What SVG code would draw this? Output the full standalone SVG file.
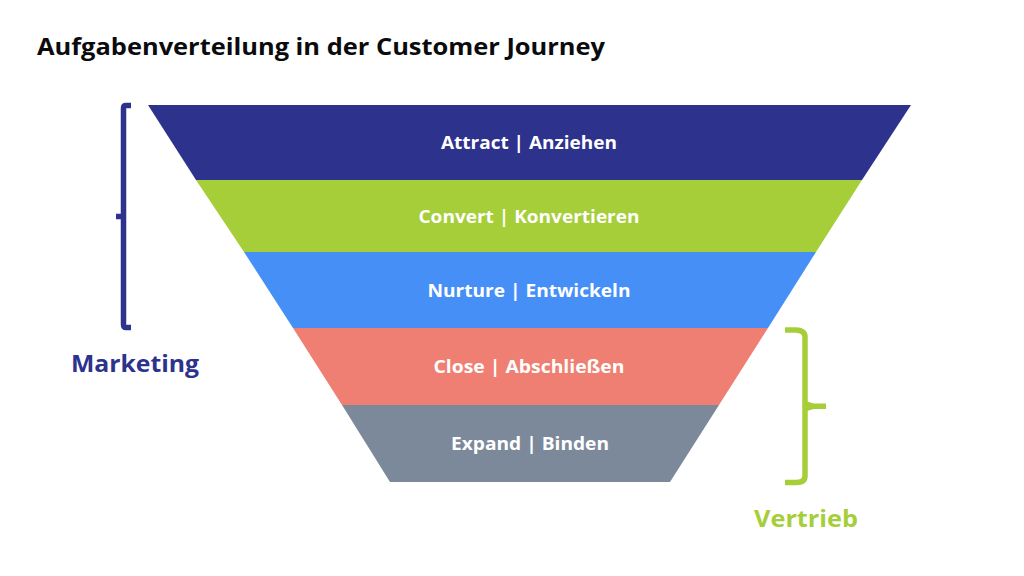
<svg xmlns="http://www.w3.org/2000/svg" width="1024" height="576" viewBox="0 0 1024 576">
<style>
text{font-family:"Open Sans","Liberation Sans",sans-serif;font-weight:700}
.l{fill:#fff;font-size:18.500px;text-anchor:middle}
.b{fill:none;stroke-width:5.500}
</style>
<rect width="1024" height="576" fill="#fff"/>
<text x="37" y="55" font-size="24" textLength="568" lengthAdjust="spacingAndGlyphs" fill="#0b0b0e">Aufgabenverteilung in der Customer Journey</text>
<g id="attract"><polygon points="148,105 911,105 862,180 196,180" fill="#2d338c"/><text class="l" x="529" y="149" textLength="176" lengthAdjust="spacingAndGlyphs">Attract | Anziehen</text></g>
<g id="convert"><polygon points="196,180 862,180 816,252 244,252" fill="#a5ce39"/><text class="l" x="529" y="223" textLength="221" lengthAdjust="spacingAndGlyphs">Convert | Konvertieren</text></g>
<g id="nurture"><polygon points="244,252 816,252 768,328 293,328" fill="#458ff6"/><text class="l" x="529" y="297" textLength="203" lengthAdjust="spacingAndGlyphs">Nurture | Entwickeln</text></g>
<g id="close"><polygon points="293,328 768,328 719,405 342,405" fill="#ef7f72"/><text class="l" x="529" y="373" textLength="191" lengthAdjust="spacingAndGlyphs">Close | Abschließen</text></g>
<g id="expand"><polygon points="342,405 719,405 670,482 390,482" fill="#7b899b"/><text class="l" x="530" y="450" textLength="158" lengthAdjust="spacingAndGlyphs">Expand | Binden</text></g>
<g id="connectors">
<path class="b" stroke="#2d338c" d="M131,105.500H126Q123.500,105.500 123.500,108V324.500Q123.500,327.500 126,327.500H131M123.500,216.500H116"/>
<path class="b" stroke="#a5ce39" stroke-width="6" d="M785,330H796Q805,330.500 805,337V476Q805,482.500 796,482.500H785"/>
<path fill="#a5ce39" d="M805,401L814,403.500H826V409H814L805,411.500Z"/>
</g>
<g id="marketing"><text x="71" y="372" font-size="24" textLength="128" lengthAdjust="spacingAndGlyphs" fill="#2d338c">Marketing</text></g>
<g id="vertrieb"><text x="754" y="527" font-size="24" textLength="104" lengthAdjust="spacingAndGlyphs" fill="#a5ce39">Vertrieb</text></g>
</svg>
